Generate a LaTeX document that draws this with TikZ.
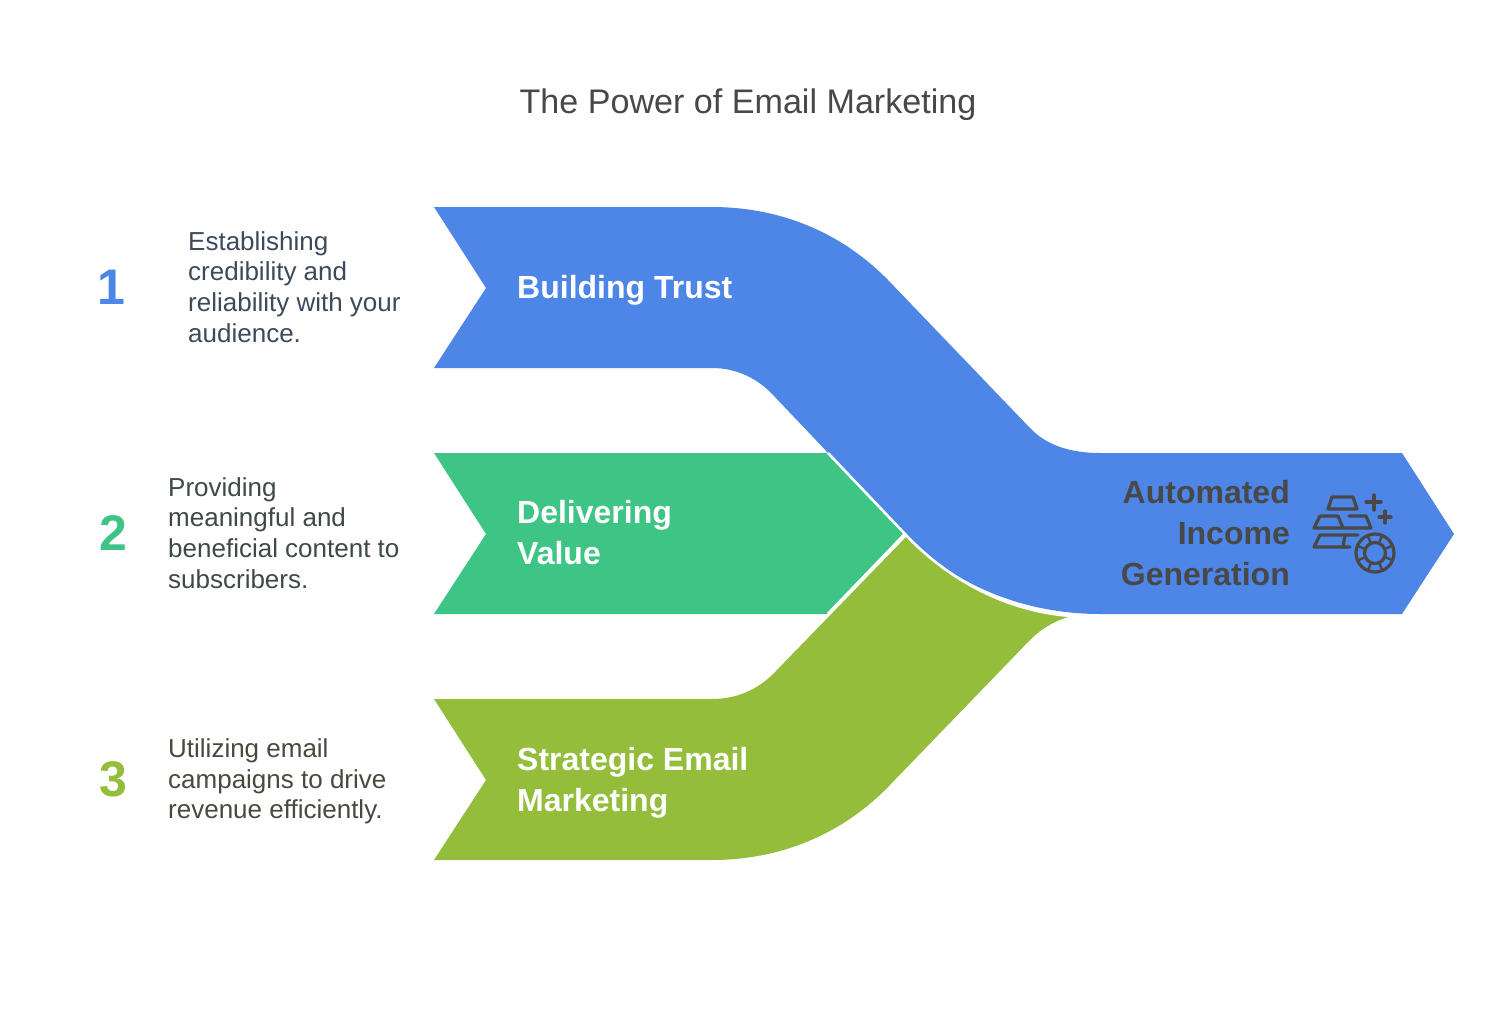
\documentclass[tikz,border=0pt]{standalone}
\usepackage{fontspec}
\setmainfont{Liberation Sans}
\definecolor{cblue}{HTML}{4D86E6}
\definecolor{cgreen}{HTML}{3EC586}
\definecolor{colive}{HTML}{93BD3A}
\definecolor{cdark}{HTML}{484848}
\definecolor{tone}{HTML}{3D4A5C}
\definecolor{ttwo}{HTML}{3D4A45}
\definecolor{tthree}{HTML}{474A3E}
\tikzset{
  band/.style={draw=none},
  num/.style={font=\bfseries\fontsize{50}{50}\selectfont,anchor=center,inner sep=0pt},
  desc/.style={font=\fontsize{26}{30.7}\selectfont,align=left,anchor=west,inner sep=0pt},
  head/.style={font=\bfseries\fontsize{32}{41}\selectfont,align=left,anchor=west,inner sep=0pt,text=white},
  icon/.style={draw=cdark,line width=3.2pt,line cap=round,line join=round}
}
\begin{document}
\begin{tikzpicture}[x=1pt,y=-1pt]
\useasboundingbox (0,0) rectangle (1500,1026);
\fill[white] (0,0) rectangle (1500,1026);
\node[font=\fontsize{34.1}{42}\selectfont,text=cdark,inner sep=0pt] (title) at (748,105) {The Power of Email Marketing};
% bands
\fill[band,cgreen] (434,453) -- (828,453) -- (905,534) -- (828,614) -- (434,614) -- (486,534) -- cycle;
\fill[band,colive] (434,699) -- (712,699) .. controls (736,699) and (758,690) .. (775,672)
  -- (907,536) .. controls (950,582) and (1010,610) .. (1072,616)
  .. controls (1056,620) and (1042,628) .. (1030,640) -- (888,787)
  .. controls (840,836) and (778,860) .. (712,860) -- (434,860) -- (486,780) -- cycle;
\draw[white,line width=3pt] (828,614) -- (905,534);
\fill[band,cblue] (434,207) -- (712,207) .. controls (778,207) and (840,231) .. (888,280)
  -- (1030,428) .. controls (1046,445) and (1070,453) .. (1100,453)
  -- (1402,453) -- (1454,534) -- (1402,614) -- (1100,614)
  .. controls (1020,614) and (950,582) .. (905,534)
  -- (775,397) .. controls (758,378) and (736,368) .. (712,368)
  -- (434,368) -- (486,288) -- cycle;
\draw[white,line width=2.6pt] (828,453) -- (905,534) .. controls (950,582) and (1010,612) .. (1072,616);
% numbers
\node[num,text=cblue] (n1) at (111,287) {1};
\node[num,text=cgreen] (n2) at (113,533) {2};
\node[num,text=colive] (n3) at (113,779) {3};
% descriptions
\node[desc,text=tone] (d1) at (188,287) {Establishing\\credibility and\\reliability with your\\audience.};
\node[desc,text=ttwo] (d2) at (168,533) {Providing\\meaningful and\\beneficial content to\\subscribers.};
\node[desc,text=tthree] (d3) at (168,781.5) {Utilizing email\\campaigns to drive\\revenue efficiently.};
% heads
\node[head] (h1) at (517,290) {Building Trust};
\node[head] (h2) at (517,533) {Delivering\\Value};
\node[head] (h3) at (517,783) {Strategic Email\\Marketing};
\node[head,text=cdark,align=right,anchor=east] (h4) at (1290,533) {Automated\\Income\\Generation};
% icon
\draw[icon] (1328,509) -- (1357,509) -- (1353,497) -- (1332,497) -- cycle;
\draw[icon] (1314,528) -- (1343,528) -- (1338,516) -- (1320,516) -- cycle;
\draw[icon] (1343,528) -- (1371,528) -- (1366,516) -- (1349,516);
\draw[icon] (1358,535) -- (1320,535) -- (1314,547) -- (1350,547);
\draw[icon] (1343,547) -- (1345,535);
\draw[icon] (1374,495) -- (1374,510) (1366,502) -- (1381,502);
\draw[icon] (1385,511) -- (1385,523) (1379,517) -- (1391,517);
\draw[icon] (1375,553) circle (19);
\draw[icon] (1375,553) circle (10.5);
\foreach \a in {0,45,...,315}
  \draw[icon,line width=2.4pt] (1375,553) ++(\a+22:10.5) -- ++(\a+22:8.5);
\end{tikzpicture}
\end{document}
